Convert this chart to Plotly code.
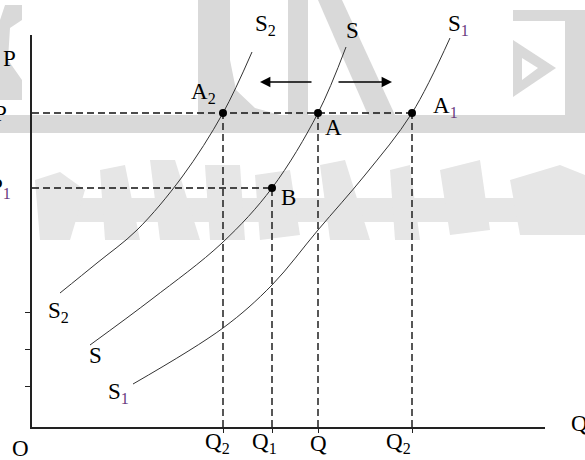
import plotly.graph_objects as go

# supply curves (quantity, price)
s2_q = [2.8, 6.5, 10.5, 15.0, 19.1, 22.0]
s2_p = [13.4, 16.4, 19.7, 25.0, 31.4, 37.5]
s_q = [5.8, 12.0, 19.0, 24.0, 28.6, 31.4]
s_p = [8.2, 12.8, 18.4, 23.9, 31.4, 38.0]
s1_q = [10.1, 19.1, 24.0, 28.6, 33.3, 38.0, 41.8]
s1_p = [4.3, 9.9, 14.2, 19.7, 25.2, 31.4, 38.9]

# equilibrium points
pt_names = ["A2", "A", "A1", "B"]
pt_q = [19.1, 28.6, 38.0, 24.0]
pt_p = [31.4, 31.4, 31.4, 23.9]

# axis marks
q_marks = [19.1, 24.0, 28.6, 38.0]
q_labels = ["Q<sub>2</sub>", "Q<sub>1</sub>", "Q", "Q<sub>2</sub>"]
q_label_pos = [18.5, 23.2, 28.6, 36.6]
p_level = 31.4
p1_level = 23.9
y_ticks = [4.1, 7.8, 11.5]

X_MAX = 51.3
Y_MAX = 39.2
W, H = 585, 460
ML, MT = 32, 35
MR, MB = W - ML - 513, H - MT - 392

FONT = "Liberation Serif, Times New Roman, serif"
SUB1 = "<sub><span style='color:#6a3d80'>1</span></sub>"

fig = go.Figure()

dash = dict(color="#111", width=1.4, dash="7px,4px")
# dashed guides
fig.add_trace(go.Scatter(x=[0, max(pt_q)], y=[p_level, p_level], mode="lines", line=dash))
fig.add_trace(go.Scatter(x=[0, pt_q[3]], y=[p1_level, p1_level], mode="lines", line=dash))
for q, p in zip(pt_q, pt_p):
    fig.add_trace(go.Scatter(x=[q, q], y=[0, p], mode="lines", line=dash))

curve = dict(color="#333", width=1, shape="spline")
for qq, pp in [(s2_q, s2_p), (s_q, s_p), (s1_q, s1_p)]:
    fig.add_trace(go.Scatter(x=qq, y=pp, mode="lines", line=curve))

fig.add_trace(go.Scatter(x=pt_q, y=pt_p, mode="markers",
                         marker=dict(color="black", size=8), text=pt_names))


def ann(x, y, text, **kw):
    # paper refs so labels outside the axis ranges still show
    d = dict(x=x / X_MAX, y=y / Y_MAX, text=text, showarrow=False,
             xref="paper", yref="paper", xanchor="center", yanchor="middle",
             font=dict(family=FONT, size=23, color="black"))
    d.update(kw)
    fig.add_annotation(**d)


# curve labels
ann(23.3, 40.2, "S<sub>2</sub>")
ann(32.0, 39.7, "S")
ann(42.6, 40.2, "S" + SUB1)
ann(2.6, 11.5, "S<sub>2</sub>")
ann(6.3, 7.2, "S")
ann(8.6, 3.4, "S" + SUB1)
# point labels
ann(17.1, 33.4, "A<sub>2</sub>")
ann(30.1, 30.0, "A")
ann(41.3, 32.0, "A" + SUB1)
ann(25.6, 23.0, "B")
# axis labels
ann(-2.2, 36.9, "P")
ann(-3.1, p_level, "P")
ann(-1.9, p1_level, "P" + SUB1, xanchor="right")
ann(-1.2, -2.1, "O")
for x, t in zip(q_label_pos, q_labels):
    ann(x, -1.6, t)
ann(54.7, 0.4, "Q")

# shift arrows
for tail, head in [(28.1, 22.8), (30.5, 36.0)]:
    fig.add_annotation(x=head, y=34.5, ax=tail, ay=34.5, xref="x", yref="y",
                       axref="x", ayref="y", text="", showarrow=True,
                       arrowhead=2, arrowsize=1.3, arrowwidth=1.6, arrowcolor="black")

# faded watermark behind the chart (page pixel outlines)
wm_dark = [
    [(0, 115), (578, 115), (578, 133), (0, 133)],
    [(565, 10), (585, 10), (585, 133), (565, 133)],
    [(513, 10), (570, 10), (570, 21), (513, 21)],
    [(513, 40), (556, 68), (513, 97)],
    [(5, 5), (22, 5), (22, 20), (10, 28), (8, 60), (22, 80), (22, 100), (0, 100), (0, 20)],
    [(198, 0), (230, 0), (230, 60), (236, 90), (255, 108), (280, 115), (198, 115)],
    [(288, 0), (308, 0), (308, 115), (288, 115)],
    [(318, 0), (342, 0), (395, 115), (368, 115)],
]
wm_light = [
    [(40, 198), (585, 198), (585, 222), (40, 222)],
    [(35, 180), (60, 172), (85, 190), (70, 240), (40, 240)],
    [(100, 170), (125, 165), (140, 240), (105, 240)],
    [(150, 160), (175, 160), (200, 240), (160, 240)],
    [(205, 165), (240, 165), (245, 240), (210, 240)],
    [(255, 175), (290, 170), (300, 235), (260, 240)],
    [(320, 165), (345, 160), (370, 240), (330, 240)],
    [(390, 170), (410, 165), (420, 240), (395, 240)],
    [(440, 170), (480, 160), (490, 230), (450, 235)],
    [(510, 180), (560, 165), (585, 175), (585, 235), (520, 235)],
]


def to_path(poly):
    pw, ph = W - ML - MR, H - MT - MB
    pts = [((px - ML) / pw, (H - MB - py) / ph) for px, py in poly]
    return "M" + " L".join(f"{a:.4f},{b:.4f}" for a, b in pts) + " Z"


for poly in wm_dark:
    fig.add_shape(type="path", path=to_path(poly), xref="paper", yref="paper",
                  fillcolor="#d9d9d9", line_width=0, layer="below")
fig.add_shape(type="path", path=to_path([(522, 58), (538, 68), (522, 80)]),
              xref="paper", yref="paper", fillcolor="white", line_width=0, layer="below")
for poly in wm_light:
    fig.add_shape(type="path", path=to_path(poly), xref="paper", yref="paper",
                  fillcolor="#e6e6e6", line_width=0, layer="below")

fig.update_layout(
    width=W, height=H,
    margin=dict(l=ML, r=MR, t=MT, b=MB),
    plot_bgcolor="rgba(0,0,0,0)", paper_bgcolor="white",
    showlegend=False,
    xaxis=dict(range=[0, X_MAX], showline=True, linecolor="#222", linewidth=1.5,
               showgrid=False, zeroline=False, ticks="outside", tickvals=q_marks,
               ticklen=4, tickcolor="#222", showticklabels=False),
    yaxis=dict(range=[0, Y_MAX], showline=True, linecolor="#222", linewidth=1.5,
               showgrid=False, zeroline=False, ticks="outside", tickvals=y_ticks,
               ticklen=5, tickcolor="#222", showticklabels=False),
)

# drop the default page margin so the figure fills the window exactly
fig.write_html("out.html", config={"displayModeBar": False},
               post_script="document.body.style.margin='0';")
